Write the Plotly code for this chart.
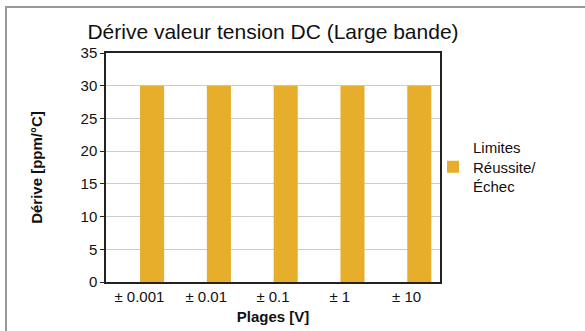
import plotly.graph_objects as go

categories = ["± 0.001", "± 0.01", "± 0.1", "± 1", "± 10"]
values = [30, 30, 30, 30, 30]
series_name = "Limites<br>Réussite/<br>Échec"
y_ticks = [0, 5, 10, 15, 20, 25, 30, 35]

W, H = 585, 331
L, R, T, B = 106, 440, 53, 282
pw, ph = R - L, B - T

def px(x):
    return (x - L) / pw

def py(y):
    return (B - y) / ph

fig = go.Figure()
fig.add_trace(go.Bar(x=categories, y=values, name=series_name,
                     offset=0.01, width=0.36,
                     marker=dict(color="#E6AE2A", line=dict(width=0))))

fig.update_layout(
    template="none",
    width=W, height=H,
    margin=dict(l=L, r=W - R, t=T, b=H - B, autoexpand=False),
    paper_bgcolor="white", plot_bgcolor="white",
    font=dict(family="Liberation Sans, Arial, sans-serif", size=14, color="#111"),
    showlegend=True,
    title=dict(text="Dérive valeur tension DC (Large bande)", x=273 / W, xanchor="center",
               y=1 - 32 / H, yanchor="middle",
               font=dict(size=21, color="#111")),
    legend=dict(x=px(433), y=py(167), xanchor="left", yanchor="middle",
                font=dict(size=15, color="#111"), itemwidth=30,
                bgcolor="rgba(0,0,0,0)"),
    xaxis=dict(showline=True, linecolor="#222", linewidth=1.5, mirror=True,
               range=[-0.5, 4.5],
               ticks="", tickfont=dict(size=15), automargin=False, showgrid=False,
               title=dict(text="<b>Plages [V]</b>", font=dict(size=15), standoff=8)),
    yaxis=dict(range=[0, 35], tickvals=y_ticks, showline=True, linecolor="#222",
               linewidth=1.5, mirror=True, ticks="outside", ticklen=4, tickcolor="#222",
               showgrid=True, gridcolor="#cccccc", gridwidth=1, zeroline=False,
               tickfont=dict(size=15), automargin=False,
               title=dict(text="<b>Dérive [ppm/°C]</b>", font=dict(size=15), standoff=34)),
    shapes=[dict(type="rect", xref="paper", yref="paper",
                 x0=px(6), x1=px(620), y0=py(360), y1=py(7),
                 line=dict(color="#999", width=2), layer="below")],
)

fig.write_html("out.html", config={"displayModeBar": False},
               post_script="document.body.style.margin='0';document.body.style.overflow='hidden';")
